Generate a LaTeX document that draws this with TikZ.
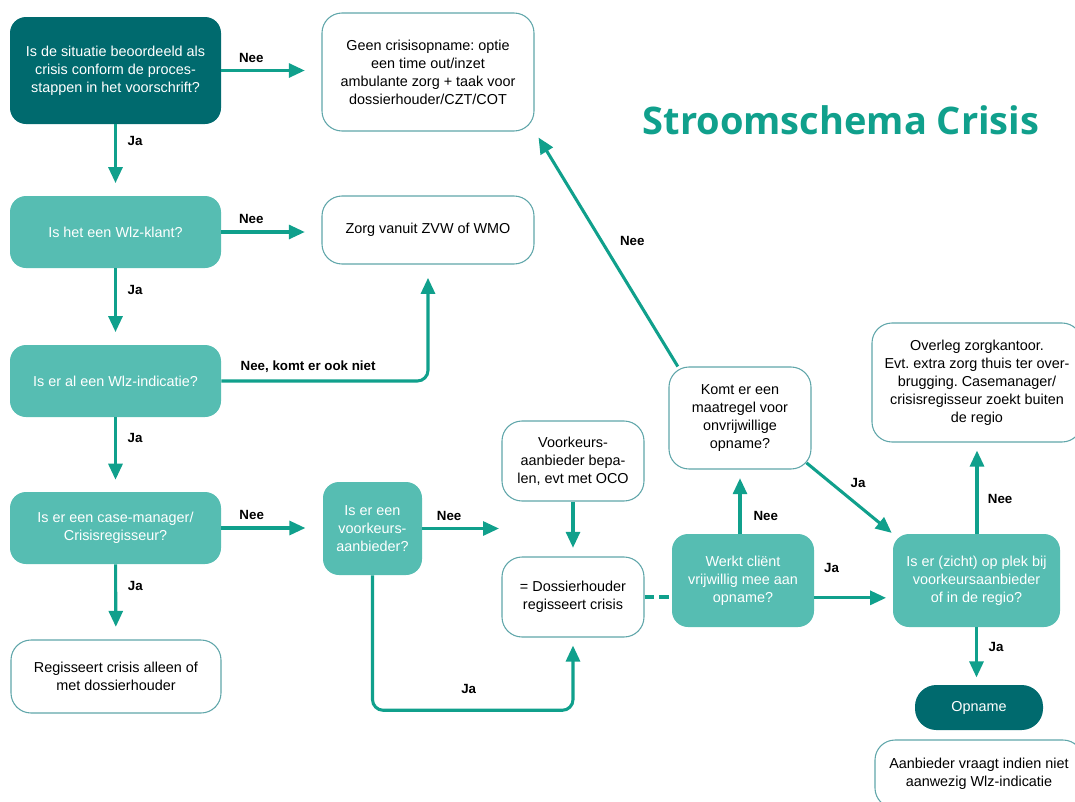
\documentclass[tikz,border=0pt]{standalone}
\usepackage{fontspec}
\setmainfont{Liberation Sans}
\newfontfamily\titelfont{Open Sans}
\usetikzlibrary{positioning,arrows.meta}
\frenchspacing
\definecolor{donker}{RGB}{0,106,110}
\definecolor{licht}{RGB}{86,189,178}
\definecolor{groen}{RGB}{16,160,140}
\definecolor{rand}{RGB}{96,166,170}
\newcommand*{\pxu}{0.75pt}
\tikzset{>={Triangle[length=12pt,width=10.5pt]},
  every node/.style={font=\fontsize{10.8}{13.5}\selectfont},
  vraag/.style={fill=licht,text=white,rounded corners=12pt,align=center,inner sep=0pt},
  start/.style={vraag,fill=donker},
  info/.style={draw=rand,line width=0.8pt,fill=white,rounded corners=15pt,align=center,inner sep=0pt},
  pijl/.style={draw=groen,line width=2.3pt,->,rounded corners=8pt},
  lbl/.style={font=\fontsize{10}{12}\selectfont\bfseries,inner sep=0pt},
  titel/.style={font=\titelfont\bfseries\fontsize{28.5}{34}\selectfont,text=groen}}

\begin{document}
\begin{tikzpicture}[x=0.75pt,y=-0.75pt]
\useasboundingbox (0,0) rectangle (1075,801);
\node[titel] (titel) at (841,120) {Stroomschema Crisis};

\node[start,minimum width=211*\pxu,minimum height=107*\pxu] (situatie) at (115.5,70.5)
  {Is de situatie beoordeeld als\\crisis conform de proces-\\stappen in het voorschrift?};
\node[info,minimum width=212*\pxu,minimum height=118*\pxu] (geen) at (428,72)
  {Geen crisisopname: optie\\een time out/inzet\\ambulante zorg + taak voor\\dossierhouder/CZT/COT};
\node[vraag,minimum width=211*\pxu,minimum height=72*\pxu] (klant) at (115.5,232) {Is het een Wlz-klant?};
\node[info,minimum width=212*\pxu,minimum height=68*\pxu] (zvw) at (428,230) {Zorg vanuit ZVW of WMO};
\node[vraag,minimum width=211*\pxu,minimum height=72*\pxu] (wlzind) at (115.5,381) {Is er al een Wlz-indicatie?};
\node[vraag,minimum width=211*\pxu,minimum height=72*\pxu] (casem) at (115.5,528)
  {Is er een case-manager/\\Crisisregisseur?};
\node[info,minimum width=210*\pxu,minimum height=73*\pxu] (regie) at (116,676.5)
  {Regisseert crisis alleen of\\met dossierhouder};
\node[vraag,minimum width=99*\pxu,minimum height=93*\pxu] (voork) at (372.5,528.5)
  {Is er een\\voorkeurs-\\aanbieder?};
\node[info,minimum width=142*\pxu,minimum height=80*\pxu] (bepalen) at (573,461)
  {Voorkeurs-\\aanbieder bepa-\\len, evt met OCO};
\node[info,minimum width=142*\pxu,minimum height=80*\pxu] (dossier) at (573,597)
  {= Dossierhouder\\regisseert crisis};
\node[vraag,minimum width=142*\pxu,minimum height=93*\pxu] (werkt) at (743,580.5)
  {Werkt cliënt\\vrijwillig mee aan\\opname?};
\node[info,minimum width=142*\pxu,minimum height=102*\pxu] (maatregel) at (740,418)
  {Komt er een\\maatregel voor\\onvrijwillige\\opname?};
\node[vraag,minimum width=167*\pxu,minimum height=93*\pxu] (plek) at (976.5,580.5)
  {Is er (zicht) op plek bij\\voorkeursaanbieder\\of in de regio?};
\node[info,minimum width=210*\pxu,minimum height=119*\pxu] (overleg) at (977,382.5)
  {Overleg zorgkantoor.\\Evt. extra zorg thuis ter over-\\brugging. Casemanager/\\crisisregisseur zoekt buiten\\de regio};
\node[start,rounded corners=16pt,minimum width=128*\pxu,minimum height=45*\pxu] (opname) at (979,707.5) {Opname};
\node[info,minimum width=208*\pxu,minimum height=68*\pxu] (aanbieder) at (979,774)
  {Aanbieder vraagt indien niet\\aanwezig Wlz-indicatie};

\coordinate (vrij) at (499,528.5);

\draw[pijl,shorten >=12.5pt] (situatie) -- node[lbl,pos=0.3,above=5pt] {Nee} (situatie -| geen.west);
\draw[pijl,shorten >=9.5pt] (situatie) -- node[lbl,pos=0.24,right=8pt] {Ja} (klant);
\draw[pijl,shorten >=12.5pt] (klant) -- node[lbl,pos=0.3,above=5pt] {Nee} (klant -| zvw.west);
\draw[pijl,shorten >=9.5pt] (klant) -- node[lbl,pos=0.28,right=8pt] {Ja} (wlzind);
\draw[pijl,shorten >=10pt] (wlzind.east) -| node[lbl,pos=0.21,above=5pt] {Nee, komt er ook niet} (zvw.south);
\draw[pijl,shorten >=9pt] (wlzind) -- node[lbl,pos=0.28,right=8pt] {Ja} (casem);
\draw[pijl,shorten >=13pt] (casem) -- node[lbl,pos=0.3,above=5pt] {Nee} (casem -| voork.west);
\draw[pijl,shorten >=9.5pt] (casem) -- node[lbl,pos=0.29,right=8pt] {Ja} (regie);
\draw[pijl] (voork) -- node[lbl,pos=0.35,above=5pt] {Nee} (vrij);
\draw[pijl,shorten >=6.5pt] (bepalen) -- (dossier);
\draw[pijl,shorten >=6pt] (voork.south) -- ++(0,135) -| node[lbl,pos=0.24,above=11pt] {Ja} (dossier.south);
\draw[groen,line width=2.3pt,dash pattern=on 7pt off 4pt] (dossier.east) -- (dossier.east -| werkt.west);
\draw[pijl,shorten >=6.5pt] (maatregel.south |- werkt.north) -- node[lbl,pos=0.28,right=9pt] {Nee} (maatregel.south);
\draw[pijl,shorten >=5pt] ([yshift=-13pt]werkt.east) -- node[lbl,pos=0.22,above=18pt] {Ja} ([yshift=-13pt]plek.west);
\draw[pijl] ([xshift=7pt]maatregel.north west) -- node[lbl,pos=0.55,right=13pt] {Nee} ([shift={(3pt,-4.5pt)}]geen.south east);
\draw[pijl,shorten >=1pt] ([shift={(-3.75pt,5pt)}]maatregel.south east) -- node[lbl,pos=0.44,above right=5pt] {Ja} (plek.north west);
\draw[pijl,shorten >=6pt] (plek.north -| overleg.south) -- node[lbl,pos=0.38,right=7pt] {Nee} (overleg.south);
\draw[pijl,shorten >=5.5pt] (plek.south) -- node[lbl,pos=0.34,right=8pt] {Ja} (plek.south |- opname.north);
\end{tikzpicture}
\end{document}
